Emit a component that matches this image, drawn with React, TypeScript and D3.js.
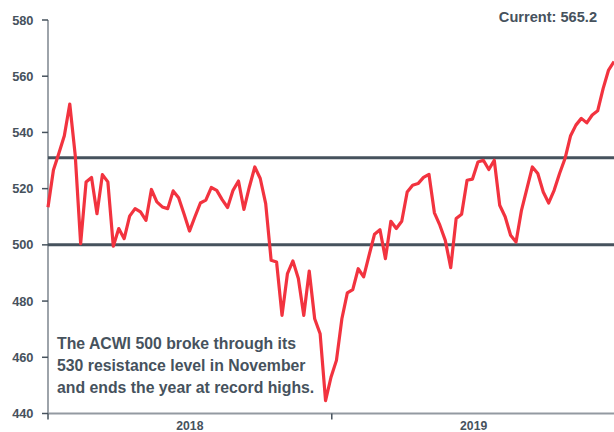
import React from 'react';
import * as d3 from 'd3';

// Weekly index levels, first week of 2018 through the last week of 2019
const startDate = new Date(2018, 0, 1);
const values = [
  513.4, 526.6, 532.6, 538.8, 550.1, 531.9, 500.4, 522.4, 524.0, 511.1,
  525.0, 522.4, 499.5, 505.8, 502.2, 510.2, 512.9, 511.7, 508.7, 519.7,
  515.3, 513.5, 512.9, 519.2, 516.8, 511.0, 504.9, 510.0, 514.9, 515.9,
  520.4, 519.4, 516.1, 513.3, 519.4, 522.7, 512.6, 520.6, 527.7, 523.6,
  514.7, 494.5, 493.9, 474.9, 489.8, 494.3, 488.0, 474.9, 490.7, 473.7,
  468.4, 444.6, 452.9, 458.9, 473.7, 482.9, 484.1, 491.5, 488.6, 496.3,
  503.8, 505.4, 495.1, 508.4, 505.8, 508.4, 518.8, 521.2, 521.8, 524.0,
  525.1, 511.4, 507.0, 501.6, 491.9, 509.4, 510.9, 523.0, 523.4, 529.5,
  530.1, 526.8, 530.1, 514.1, 510.0, 503.4, 501.0, 512.3, 520.0, 527.7,
  525.4, 518.8, 514.9, 519.4, 525.4, 530.7, 538.7, 542.6, 545.0, 543.4,
  546.2, 547.7, 555.6, 562.2, 565.2,
];
const dates = values.map((_, i) => d3.timeDay.offset(startDate, i * 7));

const levels = [531, 500];
const yTicks = [440, 460, 480, 500, 520, 540, 560, 580];
const years = [2018, 2019];
const currentLabel = 'Current: 565.2';
const noteLines = [
  'The ACWI 500 broke through its',
  '530 resistance level in November',
  'and ends the year at record highs.',
];

const W = 614;
const H = 432;
const left = 48;
const right = 614;
const top = 20;
const bottom = 413.5;
const slate = '#46525d';
const font = '"Liberation Sans", Arial, Helvetica, sans-serif';

export default function App() {
  const x = d3.scaleTime()
    .domain([dates[0], dates[dates.length - 1]])
    .range([left, right]);
  const y = d3.scaleLinear().domain([440, 580]).range([bottom, top]);

  const line = d3.line<number>()
    .x((_, i) => x(dates[i]))
    .y(d => y(d));

  return (
    <svg width={W} height={H} style={{ position: 'absolute', left: 0, top: 0 }}
      fontFamily={font} fontWeight="bold">
      {/* axes */}
      <line x1={left} x2={left} y1={top} y2={bottom} stroke="#939aa1" strokeWidth={1.8} />
      <line x1={left} x2={W} y1={bottom} y2={bottom} stroke="#939aa1" strokeWidth={1.8} />
      {yTicks.map(t => (
        <g key={t}>
          <line x1={left - 6} x2={left} y1={y(t)} y2={y(t)} stroke={slate} strokeWidth={1.5} />
          <text x={33.5} y={y(t)} dy="0.36em" textAnchor="end" fontSize={12.8} fill={slate}>{t}</text>
        </g>
      ))}
      {years.map(yr => {
        const a = x(new Date(yr, 0, 1));
        const b = x(new Date(yr + 1, 0, 1));
        return (
          <g key={yr}>
            <line x1={a} x2={a} y1={bottom} y2={bottom + 6} stroke={slate} strokeWidth={1.5} />
            <text x={(a + b) / 2} y={429.5} textAnchor="middle" fontSize={12.2} fill={slate}>{yr}</text>
          </g>
        );
      })}

      {/* resistance / support levels */}
      {levels.map(l => (
        <line key={l} x1={left} x2={W} y1={y(l)} y2={y(l)} stroke={slate} strokeWidth={3} />
      ))}

      <path d={line(values) || ''} fill="none" stroke="#f2333f" strokeWidth={3.2}
        strokeLinejoin="round" />

      <text x={597} y={22} textAnchor="end" fontSize={14.6} fill={slate}>{currentLabel}</text>

      {noteLines.map((t, i) => (
        <text key={i} x={57} y={349 + i * 21.8} fontSize={15.8} fill={slate}>{t}</text>
      ))}
    </svg>
  );
}
